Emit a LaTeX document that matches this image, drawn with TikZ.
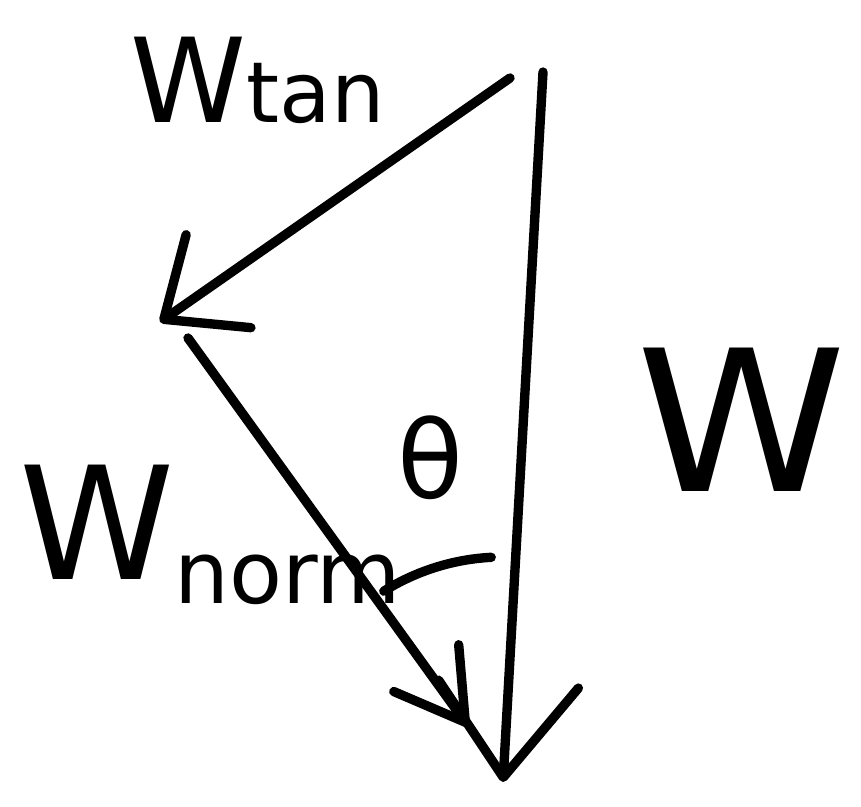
\documentclass[tikz,border=0pt]{standalone}
\usepackage{fontspec}
\setmainfont{DejaVu Sans}
\usetikzlibrary{arrows.meta}

\newcommand{\fs}[1]{\fontsize{#1}{#1}\selectfont}

\begin{document}
\begin{tikzpicture}[x=0.3mm,y=-0.3mm,
  vec/.style={line width=8pt, line cap=round, line join=round},
  tipbig/.style={-{Straight Barb[length=28mm,width=42mm,round]}},
  tipmid/.style={-{Straight Barb[length=20mm,width=34mm,round]}},
  tipsmall/.style={-{Straight Barb[length=20mm,width=24mm,round]}},
  lbl/.style={inner sep=0pt, text=black},
]
\useasboundingbox (0,0) rectangle (861,806);

% ---------- points of the triangle ----------
\coordinate (wtop) at (543,72);
\coordinate (wtip) at (503,782);
\coordinate (tanstart) at (510,78);
\coordinate (tantip) at (160,322);
\coordinate (normstart) at (188,338);
\coordinate (normtip) at (468,726);

% ---------- vectors ----------
\draw[vec, tipbig] (wtop) -- (wtip);
\draw[vec, tipmid] (tanstart) -- (tantip);
\draw[vec, tipsmall] (normstart) -- (normtip);

% angle mark
\draw[vec] (wtip) ++(-122:225) arc[start angle=-122, end angle=-93, radius=225];

% ---------- labels ----------
\node[lbl] (tanlbl) at (258,80) {\fs{100}W\raisebox{0em}{\fs{72}tan}};
\node[lbl] (normlbl) at (210,535) {\fs{134}W\raisebox{-0.15em}{\fs{74}norm}};
\node[lbl, xscale=1.08] (wlbl) at (742,420) {\fs{168}W};
\node[lbl] (thetalbl) at (430,458) {\fs{92}θ};

\end{tikzpicture}
\end{document}
